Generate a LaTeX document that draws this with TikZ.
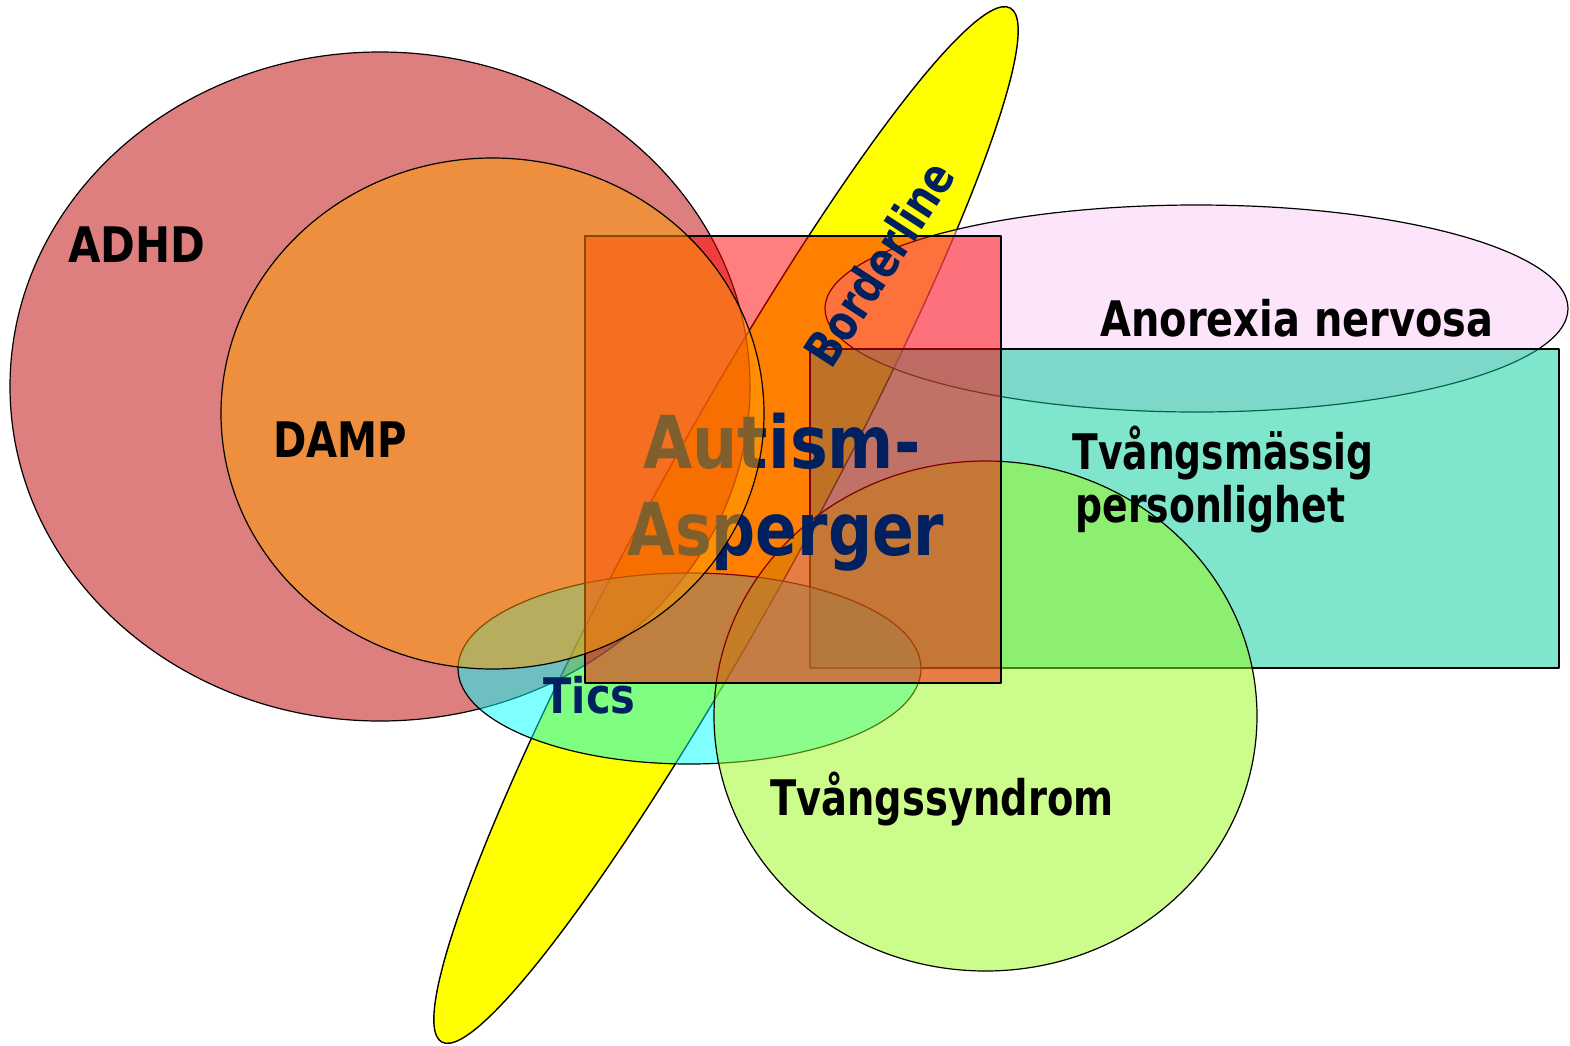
\documentclass[tikz,border=0pt]{standalone}
\usepackage{fontspec}
\setmainfont{DejaVu Sans}
\usepackage{graphicx}
\newcommand{\fitto}[2]{\resizebox{#1}{\height}{#2}}
\definecolor{yel}{RGB}{255,255,0}
\definecolor{adhd}{RGB}{190,0,0}
\definecolor{damp}{RGB}{255,159,0}
\definecolor{anor}{RGB}{249,201,245}
\definecolor{tealc}{RGB}{0,204,153}
\definecolor{ticsc}{RGB}{0,255,255}
\definecolor{tvang}{RGB}{153,249,25}
\definecolor{autr}{RGB}{255,0,0}
\definecolor{navy}{RGB}{0,32,96}
\begin{document}
\begin{tikzpicture}[x=0.5pt,y=-0.5pt,line join=round,
  venn/.style={draw=black,line width=0.6pt,fill opacity=0.5},
  lbl/.style={inner sep=0pt,font=\bfseries\fontsize{24.5}{24.5}\selectfont,text=black},
  biglbl/.style={inner sep=0pt,font=\bfseries\fontsize{36.5}{36.5}\selectfont,text=navy}]
\useasboundingbox (0,0) rectangle (1570,1045);
% Borderline (opaque yellow, bottom)
\draw[fill=yel,line width=0.7pt,rotate around={61.2:(726,525)}] (726,525) ellipse [x radius=590,y radius=77];
% ADHD
\draw[venn,fill=adhd] (380,386.5) ellipse [x radius=370,y radius=334.5];
% Anorexia
\draw[venn,fill=anor] (1196.5,308.5) ellipse [x radius=371.5,y radius=103.5];
% Tvangsmassig personlighet
\draw[venn,fill=tealc,line width=0.8pt] (810,349) rectangle (1559,668);
% Tics
\draw[venn,fill=ticsc] (689.5,668.5) ellipse [x radius=231.5,y radius=95.5];
% Tvangssyndrom
\draw[venn,fill=tvang] (985.5,716) ellipse [x radius=271.5,y radius=255];
% Autism rectangle
\draw[venn,fill=autr,line width=0.9pt] (585,236) rectangle (1001,683);
% texts under DAMP
\node[biglbl,anchor=base west] (autism) at (643,468) {\fitto{138.5pt}{Autism-}};
\node[biglbl,anchor=base west] (asperger) at (627,555) {\fitto{158.5pt}{Asperger}};
\node[lbl,text=navy,rotate=57,anchor=center] (border) at (879,263) {\fitto{116pt}{Borderline}};
% DAMP
\draw[venn,fill=damp] (492.5,413.5) ellipse [x radius=271.5,y radius=255.5];
% other labels
\node[lbl,anchor=base west] (adhdl) at (68,262) {\fitto{68.5pt}{ADHD}};
\node[lbl,anchor=base west] (dampl) at (273,457) {\fitto{67pt}{DAMP}};
\node[lbl,anchor=base west] (anorl) at (1100,336) {\fitto{196.5pt}{Anorexia nervosa}};
\node[lbl,anchor=base west] (tvm1) at (1072,469) {\fitto{150.5pt}{Tvångsmässig}};
\node[lbl,anchor=base west] (tvm2) at (1075,522) {\fitto{135pt}{personlighet}};
\node[lbl,anchor=base west] (tvs) at (770,815) {\fitto{171.5pt}{Tvångssyndrom}};
\node[lbl,text=navy,anchor=base west] (ticsl) at (543,713) {\fitto{46pt}{Tics}};
\end{tikzpicture}
\end{document}
